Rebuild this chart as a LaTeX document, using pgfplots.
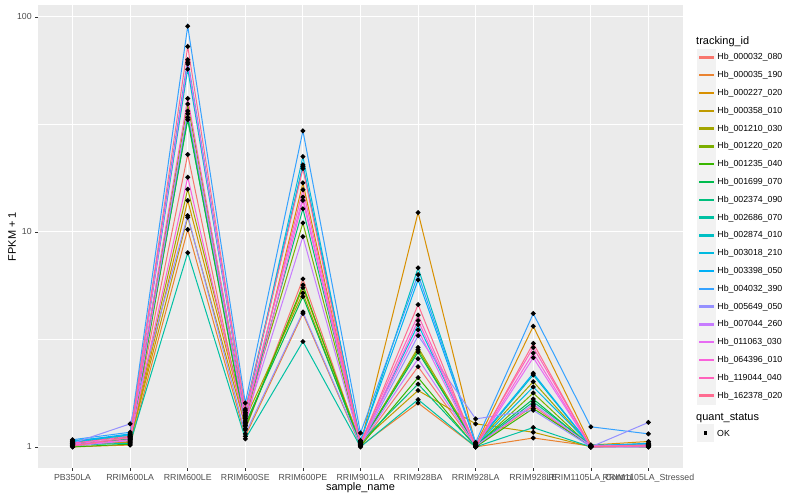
\documentclass[border=0pt]{standalone}
\usepackage{fontspec}
\setmainfont{Liberation Sans}
\usepackage{pgfplots}
\usepackage{pgfplotstable}
\pgfplotsset{compat=1.18}

% ggplot2 hue palette, 20 levels
\definecolor{c1}{HTML}{F8766D}
\definecolor{c2}{HTML}{EA8331}
\definecolor{c3}{HTML}{D89000}
\definecolor{c4}{HTML}{C09B00}
\definecolor{c5}{HTML}{A3A500}
\definecolor{c6}{HTML}{7CAE00}
\definecolor{c7}{HTML}{39B600}
\definecolor{c8}{HTML}{00BB4E}
\definecolor{c9}{HTML}{00BF7D}
\definecolor{c10}{HTML}{00C1A3}
\definecolor{c11}{HTML}{00BFC4}
\definecolor{c12}{HTML}{00BAE0}
\definecolor{c13}{HTML}{00B0F6}
\definecolor{c14}{HTML}{35A2FF}
\definecolor{c15}{HTML}{9590FF}
\definecolor{c16}{HTML}{C77CFF}
\definecolor{c17}{HTML}{E76BF3}
\definecolor{c18}{HTML}{FA62DB}
\definecolor{c19}{HTML}{FF62BC}
\definecolor{c20}{HTML}{FF6C91}
\definecolor{panelgray}{HTML}{EBEBEB}
\definecolor{keygray}{HTML}{F2F2F2}
\definecolor{tickgray}{HTML}{333333}
\definecolor{labelgray}{HTML}{4D4D4D}

% FPKM + 1 per sample (rows) and gene (columns)
\pgfplotstableread{
x  s1    s2    s3    s4    s5    s6    s7    s8    s9    s10   s11   s12   s13   s14   s15   s16   s17   s18   s19   s20
0  1.02  1.00  1.03  1.01  1.04  1.05  1.00  1.03  1.06  1.02  1.07  1.05  1.06  1.08  1.04  1.01  1.03  1.02  1.04  1.01
1  1.10  1.02  1.05  1.06  1.08  1.12  1.03  1.09  1.11  1.04  1.13  1.14  1.15  1.17  1.28  1.07  1.10  1.08  1.12  1.11
2  22.9  10.25 14.0  11.7  15.8  39.3  34.0  33.2  35.4  8.0   57.1  63.1  60.3  90.5  11.9  36.5  61.5  17.96 41.7  72.8
3  1.20  1.12  1.30  1.25  1.35  1.40  1.22  1.28  1.38  1.09  1.45  1.42  1.50  1.60  1.15  1.32  1.44  1.26  1.36  1.48
4  6.04  4.17  16.9  5.5   5.19  11.0  5.66  5.0   12.8  3.09  20.5  22.4  20.1  29.5  4.24  9.5   14.5  14.0  15.7  19.7
5  1.02  1.01  1.03  1.05  1.02  1.04  1.01  1.03  1.05  1.00  1.06  1.04  1.07  1.16  1.02  1.03  1.04  1.02  1.05  1.03
6  2.36  1.60  12.3  1.83  2.90  2.83  2.10  2.76  1.96  1.66  6.8   3.70  5.98  6.33  3.29  2.57  3.50  3.87  4.10  4.59
7  1.01  1.00  1.02  1.28  1.03  1.01  1.00  1.02  1.01  1.00  1.03  1.02  1.04  1.05  1.35  1.01  1.00  1.01  1.02  1.00
8  1.55  1.10  3.64  1.17  2.01  1.78  1.51  1.67  1.62  1.23  2.16  1.90  2.20  4.17  1.48  1.58  2.60  2.73  2.90  3.03
9  1.00  1.01  1.02  1.00  1.01  1.00  1.01  1.00  1.02  1.00  1.01  1.02  1.01  1.24  1.00  1.01  1.00  1.00  1.01  1.00
10 1.01  1.03  1.06  1.04  1.02  1.01  1.00  1.02  1.01  1.00  1.03  1.02  1.04  1.15  1.30  1.02  1.01  1.00  1.01  1.02
}\data

\begin{document}
\begin{tikzpicture}
\useasboundingbox (-38bp,-32bp) rectangle (762bp,468bp);
\begin{axis}[
  at={(0,0)}, anchor=south west,
  scale only axis, width=645bp, height=463bp,
  xmin=-0.6, xmax=10.6,
  ymode=log, ymin=0.798, ymax=113.5,
  xtick={0,...,10},
  xticklabels={PB350LA,RRIM600LA,RRIM600LE,RRIM600SE,RRIM600PE,RRIM901LA,RRIM928BA,RRIM928LA,RRIM928LE,RRIM1105LA\_Control,RRIM1105LA\_Stressed},
  ytick={1,10,100}, yticklabels={1,10,100},
  minor ytick={3.1623,31.623},
  xtick pos=bottom, ytick pos=left,
  grid=both,
  major grid style={white, line width=1.07bp},
  minor grid style={white, line width=0.53bp},
  axis background/.style={fill=panelgray},
  axis line style={draw=none},
  tick align=outside, major tick length=2.75bp, minor tick length=0pt,
  tick style={tickgray, line width=0.53bp},
  ticklabel style={font=\fontsize{8.8}{10}\selectfont, text=labelgray},
  xlabel={sample\_name}, ylabel={FPKM + 1},
  label style={font=\fontsize{11}{13}\selectfont},
  xlabel style={at={(axis description cs:0.5,-0.043)}, anchor=center},
  ylabel style={at={(axis description cs:-0.0403,0.5)}, anchor=center, rotate=0},
  clip=false,
  legend cell align=left,
  legend style={at={(rel axis cs:1.0217,0.9064)}, anchor=north west,
    draw=none, fill=none, inner sep=0pt, row sep=0pt,
    font=\fontsize{8.8}{10}\selectfont},
  legend image code/.code={
    \fill[keygray] (0bp,-8.4bp) rectangle (17.3bp,8.4bp);
    \fill[#1] (1.7bp,-0.75bp) rectangle (15.6bp,0.75bp);
  },
  every axis plot/.append style={line width=1bp},
]
\addplot[color=c1]  table[x=x,y=s1]  {\data}; \addlegendentry{Hb\_000032\_080}
\addplot[color=c2]  table[x=x,y=s2]  {\data}; \addlegendentry{Hb\_000035\_190}
\addplot[color=c3]  table[x=x,y=s3]  {\data}; \addlegendentry{Hb\_000227\_020}
\addplot[color=c4]  table[x=x,y=s4]  {\data}; \addlegendentry{Hb\_000358\_010}
\addplot[color=c5]  table[x=x,y=s5]  {\data}; \addlegendentry{Hb\_001210\_030}
\addplot[color=c6]  table[x=x,y=s6]  {\data}; \addlegendentry{Hb\_001220\_020}
\addplot[color=c7]  table[x=x,y=s7]  {\data}; \addlegendentry{Hb\_001235\_040}
\addplot[color=c8]  table[x=x,y=s8]  {\data}; \addlegendentry{Hb\_001699\_070}
\addplot[color=c9]  table[x=x,y=s9]  {\data}; \addlegendentry{Hb\_002374\_090}
\addplot[color=c10] table[x=x,y=s10] {\data}; \addlegendentry{Hb\_002686\_070}
\addplot[color=c11] table[x=x,y=s11] {\data}; \addlegendentry{Hb\_002874\_010}
\addplot[color=c12] table[x=x,y=s12] {\data}; \addlegendentry{Hb\_003018\_210}
\addplot[color=c13] table[x=x,y=s13] {\data}; \addlegendentry{Hb\_003398\_050}
\addplot[color=c14] table[x=x,y=s14] {\data}; \addlegendentry{Hb\_004032\_390}
\addplot[color=c15] table[x=x,y=s15] {\data}; \addlegendentry{Hb\_005649\_050}
\addplot[color=c16] table[x=x,y=s16] {\data}; \addlegendentry{Hb\_007044\_260}
\addplot[color=c17] table[x=x,y=s17] {\data}; \addlegendentry{Hb\_011063\_030}
\addplot[color=c18] table[x=x,y=s18] {\data}; \addlegendentry{Hb\_064396\_010}
\addplot[color=c19] table[x=x,y=s19] {\data}; \addlegendentry{Hb\_119044\_040}
\addplot[color=c20] table[x=x,y=s20] {\data}; \addlegendentry{Hb\_162378\_020}

% points on top of all lines
\pgfplotsinvokeforeach{1,...,20}{
  \addplot[only marks, mark=*, mark size=1.9bp, black, forget plot] table[x=x,y=s#1] {\data};
}

% legend titles and the quant_status key
\node[anchor=west, font=\fontsize{11}{13}\selectfont, inner sep=0pt] at (rel axis cs:1.0202,0.920) {tracking\_id};
\node[anchor=west, font=\fontsize{11}{13}\selectfont, inner sep=0pt] at (rel axis cs:1.0202,0.108) {quant\_status};
\fill[keygray] (rel axis cs:1.0217,0.0568) rectangle (rel axis cs:1.0485,0.0942);
\fill[black] (rel axis cs:1.0351,0.0755) ++(-1.7bp,-1.7bp) rectangle ++(3.4bp,3.4bp);
\node[anchor=west, font=\fontsize{8.8}{10}\selectfont, inner sep=0pt] at (rel axis cs:1.0527,0.0755) {OK};
\end{axis}
\end{tikzpicture}
\end{document}
